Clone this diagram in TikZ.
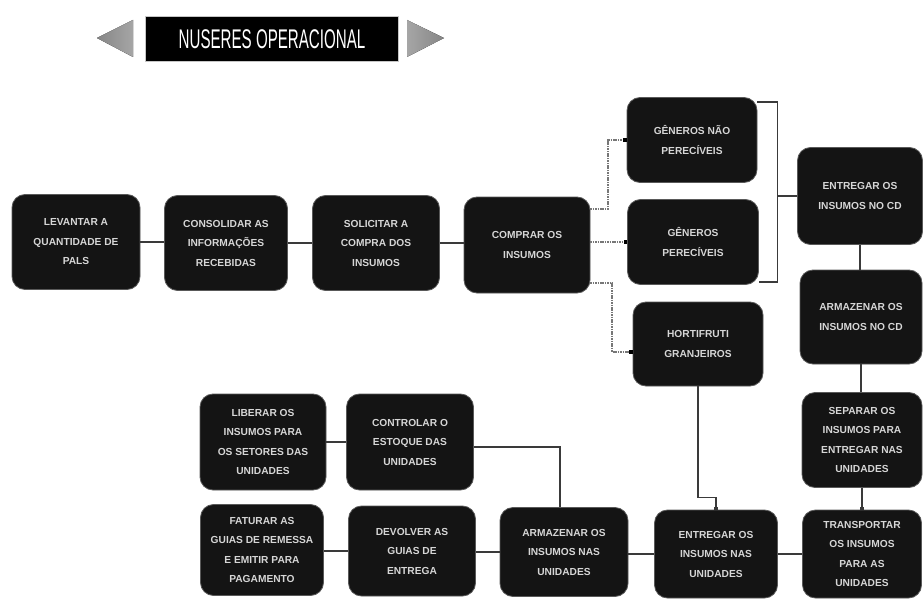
\documentclass[tikz,border=0pt]{standalone}
\usepackage{fontspec}
\setmainfont{Liberation Sans}
\usetikzlibrary{arrows.meta,calc}
\definecolor{boxfill}{HTML}{141414}
\definecolor{boxtext}{HTML}{D6D6D6}
\definecolor{lineclr}{HTML}{3A3A3A}
\definecolor{dotclr}{HTML}{777777}
\begin{document}
\begin{tikzpicture}[x=1pt,y=-1pt,
  box/.style={rectangle, rounded corners=13pt, fill=boxfill, draw=black!65, line width=0.8pt,
    text=boxtext, font=\bfseries\fontsize{10.2}{19.5}\selectfont, align=center, inner sep=2pt},
  conn/.style={draw=lineclr, line width=1.4pt},
  sqtip/.style={-{Square[length=3pt,width=3.5pt,fill=black]}},
  dotconn/.style={draw=dotclr, line width=2pt, dash pattern=on 1.6pt off 0.8pt,
    -{Square[length=3.5pt,width=4pt,fill=black,color=black]}},
  tri/.style={draw=none},
  titlebox/.style={rectangle, fill=black, draw=gray!45, line width=1.5pt, text=white,
    minimum width=253pt, minimum height=45pt, inner sep=0pt}
]
\useasboundingbox (0,0) rectangle (924,599);
\fill[white] (0,0) rectangle (924,599);

% title
\node[titlebox] (title) at (272,39) {\scalebox{0.56}[1]{\fontsize{27}{27}\selectfont NUSERES OPERACIONAL}};
\fill[tri, left color=gray!95, right color=gray!70] (97,38) -- (133,20) -- (133,57) -- cycle;
\fill[tri, left color=gray!70, right color=gray!95] (444,38) -- (407,20) -- (407,57) -- cycle;

% top row
\node[box, minimum width=128pt, minimum height=95pt] (n1) at (76,242) {LEVANTAR A\\QUANTIDADE DE\\PALS};
\node[box, minimum width=123pt, minimum height=95pt] (n2) at (226,243) {CONSOLIDAR AS\\INFORMAÇÕES\\RECEBIDAS};
\node[box, minimum width=127pt, minimum height=95pt] (n3) at (376,243) {SOLICITAR A\\COMPRA DOS\\INSUMOS};
\node[box, minimum width=126pt, minimum height=96pt] (n4) at (527,245) {COMPRAR OS\\INSUMOS};

% branches
\node[box, minimum width=130pt, minimum height=85pt] (n5) at (692,140) {GÊNEROS NÃO\\PERECÍVEIS};
\node[box, minimum width=131pt, minimum height=85pt] (n6) at (693,242) {GÊNEROS\\PERECÍVEIS};
\node[box, minimum width=130pt, minimum height=84pt] (n7) at (698,344) {HORTIFRUTI\\GRANJEIROS};

% right column
\node[box, minimum width=125pt, minimum height=97pt] (n8) at (860,196) {ENTREGAR OS\\INSUMOS NO CD};
\node[box, minimum width=122pt, minimum height=94pt] (n9) at (861,317) {ARMAZENAR OS\\INSUMOS NO CD};
\node[box, minimum width=120pt, minimum height=95pt] (n10) at (862,440) {SEPARAR OS\\INSUMOS PARA\\ENTREGAR NAS\\UNIDADES};
\node[box, minimum width=119pt, minimum height=88pt] (n11) at (862,554) {TRANSPORTAR\\OS INSUMOS\\PARA AS\\UNIDADES};

% bottom row
\node[box, minimum width=123pt, minimum height=88pt] (n12) at (716,554) {ENTREGAR OS\\INSUMOS NAS\\UNIDADES};
\node[box, minimum width=128pt, minimum height=89pt] (n13) at (564,552) {ARMAZENAR OS\\INSUMOS NAS\\UNIDADES};
\node[box, minimum width=127pt, minimum height=90pt] (n14) at (412,551) {DEVOLVER AS\\GUIAS DE\\ENTREGA};
\node[box, minimum width=123pt, minimum height=91pt] (n15) at (262,550) {FATURAR AS\\GUIAS DE REMESSA\\E EMITIR PARA\\PAGAMENTO};

% middle-left row
\node[box, minimum width=127pt, minimum height=96pt] (n16) at (410,442) {CONTROLAR O\\ESTOQUE DAS\\UNIDADES};
\node[box, minimum width=126pt, minimum height=96pt] (n17) at (263,442) {LIBERAR OS\\INSUMOS PARA\\OS SETORES DAS\\UNIDADES};

% connectors top row
\draw[conn] (n1.east) -- (n1.east -| n2.west);
\draw[conn] (n2.east) -- (n2.east -| n3.west);
\draw[conn] (n3.east) -- (n3.east -| n4.west);

% dotted branches
\draw[dotconn] ([yshift=-12pt]n4.north east) -- ++(18,0) |- (n5.west);
\draw[dotconn] (n4.east |- n6.west) -- (n6.west);
\draw[dotconn] ([yshift=10pt]n4.south east) -- ++(22,0) |- ([yshift=-8pt]n7.west);

% bracket to CD
\draw[conn] ([yshift=-5pt]n5.north east) -- ++(20,0) -- ([xshift=18.5pt,yshift=3pt]n6.south east) -- ([yshift=3pt]n6.south east);
\draw[conn] (n8.west) -- ++(-20,0);

% right column
\draw[conn] (n8.south) -- (n8.south |- n9.north);
\draw[conn] (n9.south) -- (n9.south |- n10.north);
\draw[conn, sqtip] (n10.south) -- (n10.south |- n11.north);

% bottom row
\draw[conn] (n11.west) -- (n11.west -| n12.east);
\draw[conn, sqtip] (n7.south) -- ++(0,111) -| (n12.north);
\draw[conn] (n12.west) -- (n12.west -| n13.east);
\draw[conn] (n13.west) -- (n13.west -| n14.east);
\draw[conn] (n14.west) -- (n14.west -| n15.east);
\draw[conn] ([xshift=-4pt]n13.north) |- ([yshift=-5pt]n16.east);
\draw[conn] (n16.west) -- (n16.west -| n17.east);
\end{tikzpicture}
\end{document}
